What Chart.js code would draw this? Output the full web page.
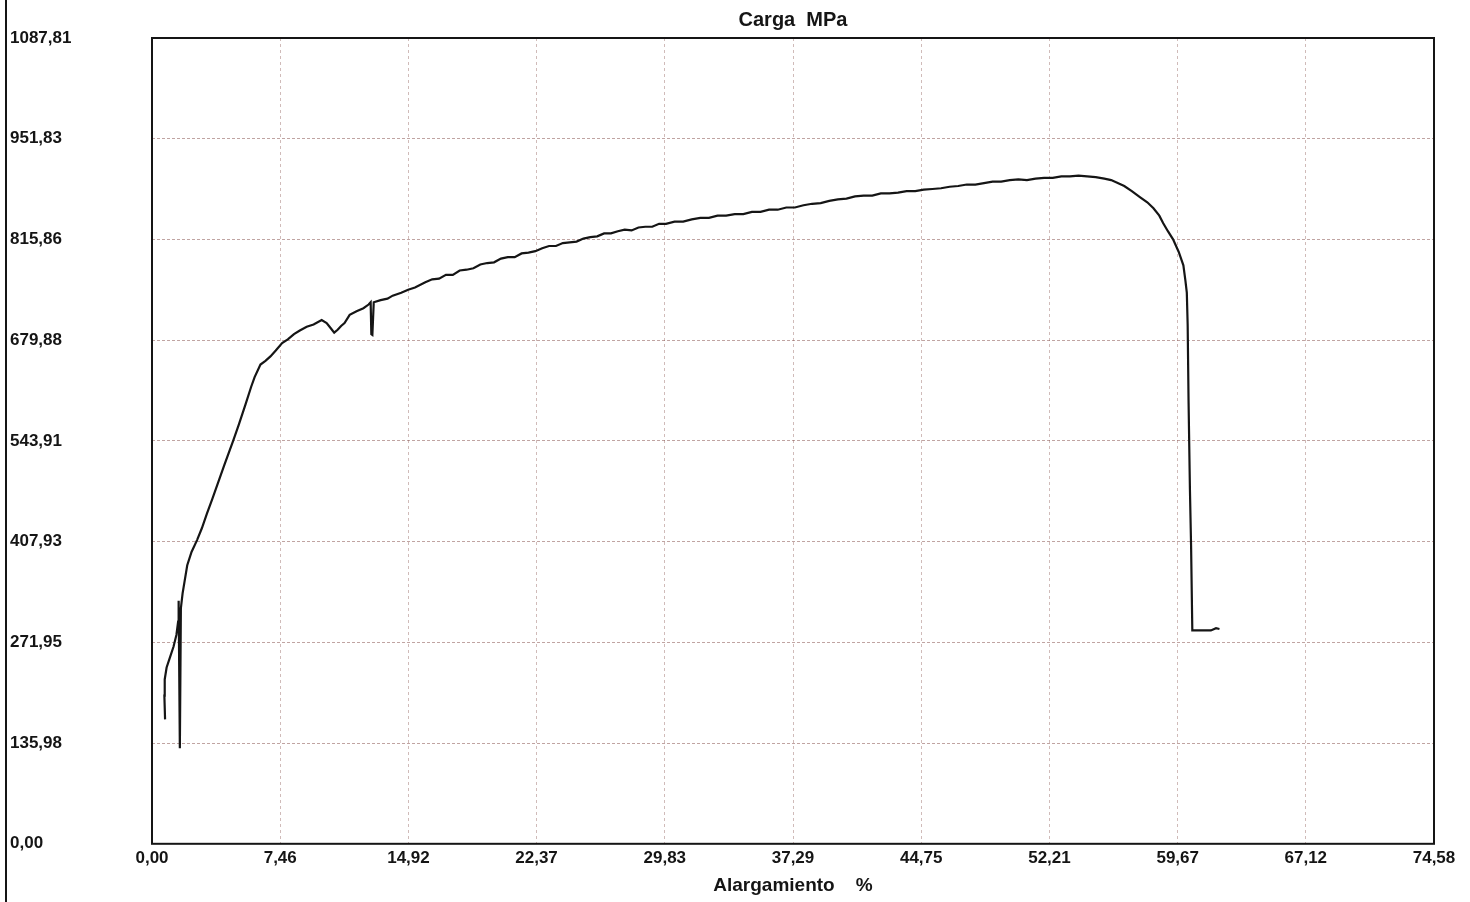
<!DOCTYPE html>
<html>
<head>
<meta charset="utf-8">
<title>Carga MPa - Alargamiento %</title>
<script src="https://cdn.jsdelivr.net/npm/chart.js@4.4.1/dist/chart.umd.min.js"></script>
<style>
  html, body { margin: 0; padding: 0; background: #fff; }
  #wrap { position: relative; width: 1470px; height: 902px; }
  #edge { position: absolute; left: 5px; top: 0; width: 2px; height: 902px; background: #151515; }
</style>
</head>
<body>
<div id="wrap">
  <canvas id="chart" width="1470" height="902"></canvas>
  <div id="edge"></div>
</div>
<script>
// Tensile test record: load (MPa) against elongation (%)
var xTickLabels = ['0,00', '7,46', '14,92', '22,37', '29,83', '37,29', '44,75', '52,21', '59,67', '67,12', '74,58'];
var yTickLabels = ['0,00', '135,98', '271,95', '407,93', '543,91', '679,88', '815,86', '951,83', '1087,81'];

var strainPct = [
  0.76, 0.72, 0.74, 0.85, 1.05, 1.25, 1.42, 1.52, 1.55, 1.62, 1.68, 1.78, 1.90, 2.05, 2.30,
  2.62, 2.90, 3.20, 3.50, 3.85, 4.20, 4.72, 5.05, 5.45, 5.77, 5.97, 6.31, 6.60, 6.89, 7.20,
  7.57, 7.90, 8.26, 8.60, 9.00, 9.40, 9.87, 10.16, 10.40, 10.60, 10.80, 11.00, 11.20, 11.50, 11.90,
  12.30, 12.60, 12.72, 12.76, 12.82, 12.90, 13.30, 13.70, 14.00, 14.50, 14.90, 15.30,
  15.9, 16.3, 16.7, 17.1, 17.5, 17.9, 18.3, 18.7, 19.1, 19.5, 19.9, 20.3, 20.7, 21.1, 21.5,
  21.9, 22.3, 22.7, 23.1, 23.5, 23.9, 24.3, 24.7, 25.1, 25.5, 25.9, 26.3, 26.7, 27.1, 27.5,
  27.9, 28.3, 28.7, 29.1, 29.5, 29.9, 30.4, 30.9, 31.4, 31.9, 32.4, 32.9, 33.4, 33.9, 34.4,
  34.9, 35.4, 35.9, 36.4, 36.9, 37.4, 37.9, 38.4, 38.9, 39.4, 39.9, 40.4, 40.9, 41.4, 41.9,
  42.4, 42.9, 43.4, 43.9, 44.4, 44.9, 45.4, 45.9, 46.4, 46.9, 47.4, 47.9, 48.4, 48.9, 49.4,
  49.9, 50.4, 50.9, 51.4, 51.9, 52.4, 52.9, 53.4, 53.9, 54.4, 54.9, 55.4, 55.8,
  56.56, 57.00, 57.47, 57.90, 58.26, 58.60, 58.82, 59.10, 59.40, 59.73, 60.00, 60.12, 60.20,
  60.25, 60.30, 60.38, 60.45, 60.52, 61.00, 61.60, 61.90, 62.10
];
var stressMPa = [
  168, 200, 222, 238, 252, 266, 282, 300, 328, 129, 318, 338, 355, 376, 394,
  410, 426, 446, 465, 488, 511, 544, 566, 594, 617, 630, 647, 652, 658, 666,
  676, 681, 688, 693, 698, 701, 707, 703, 696, 690, 694, 699, 703, 714, 719,
  723, 728, 731, 688, 687, 731, 734, 736, 740, 744, 748, 751,
  758, 762, 763, 768, 768, 774, 775, 777, 782, 784, 785, 790, 792, 792, 797,
  798, 800, 804, 807, 807, 811, 812, 813, 817, 819, 820, 824, 824, 827, 829,
  828, 832, 833, 833, 837, 837, 840, 840, 843, 845, 845, 848, 848, 850, 850,
  853, 853, 856, 856, 859, 859, 862, 864, 865, 868, 870, 871, 874, 875, 875,
  878, 878, 879, 881, 881, 883, 884, 885, 887, 888, 890, 890, 892, 894, 894,
  896, 897, 896, 898, 899, 899, 901, 901, 902, 901, 900, 898, 896,
  888, 881, 873, 866, 858, 848, 838, 827, 816, 799, 781, 760, 744,
  700, 600, 480, 400, 288, 288, 288, 291, 290
];

function tickValues(labels) {
  return labels.map(function (s) { return parseFloat(s.replace(',', '.')); });
}
var xTicks = tickValues(xTickLabels);
var yTicks = tickValues(yTickLabels);

var points = strainPct.map(function (x, i) { return { x: x, y: stressMPa[i] }; });

// black frame round the plot area
var frame = {
  id: 'frame',
  afterDraw: function (chart) {
    var a = chart.chartArea, c = chart.ctx;
    c.save();
    c.strokeStyle = '#151515';
    c.lineWidth = 2;
    c.strokeRect(a.left, a.top, a.right - a.left, a.bottom - a.top);
    c.restore();
  }
};

var font = "'Liberation Sans', Arial, sans-serif";

new Chart(document.getElementById('chart'), {
  type: 'scatter',
  data: {
    datasets: [{
      data: points,
      showLine: true,
      borderColor: '#151515',
      borderWidth: 2.2,
      pointRadius: 0,
      tension: 0,
      fill: false
    }]
  },
  options: {
    responsive: false,
    animation: false,
    layout: { padding: { left: 10, right: 36, top: 0, bottom: 0 } },
    plugins: {
      legend: { display: false },
      tooltip: { enabled: false },
      title: {
        display: true,
        fullSize: false,
        text: 'Carga  MPa',
        color: '#151515',
        font: { family: font, size: 20, weight: 'bold' },
        padding: { top: 8, bottom: 6 }
      }
    },
    scales: {
      x: {
        type: 'linear',
        min: 0,
        max: 74.58,
        afterBuildTicks: function (s) { s.ticks = xTicks.map(function (v) { return { value: v }; }); },
        ticks: {
          color: '#151515',
          font: { family: font, size: 17, weight: 'bold' },
          padding: 4,
          maxRotation: 0,
          autoSkip: false,
          callback: function (v, i) { return xTickLabels[i]; }
        },
        grid: { color: 'rgba(150,105,100,0.45)', lineWidth: 1, drawTicks: false },
        border: { display: false, dash: [3, 3] },
        title: {
          display: true,
          text: 'Alargamiento    %',
          color: '#151515',
          font: { family: font, size: 19, weight: 'bold' },
          padding: { top: 2, bottom: 5 }
        }
      },
      y: {
        type: 'linear',
        min: 0,
        max: 1087.81,
        afterBuildTicks: function (s) { s.ticks = yTicks.map(function (v) { return { value: v }; }); },
        afterFit: function (s) { s.width = 142; },
        ticks: {
          color: '#151515',
          font: { family: font, size: 17, weight: 'bold' },
          crossAlign: 'far',
          autoSkip: false,
          callback: function (v, i) { return yTickLabels[i]; }
        },
        grid: { color: 'rgba(140,90,85,0.55)', lineWidth: 1, drawTicks: false },
        border: { display: false, dash: [3, 2] }
      }
    }
  },
  plugins: [frame]
});
</script>
</body>
</html>
